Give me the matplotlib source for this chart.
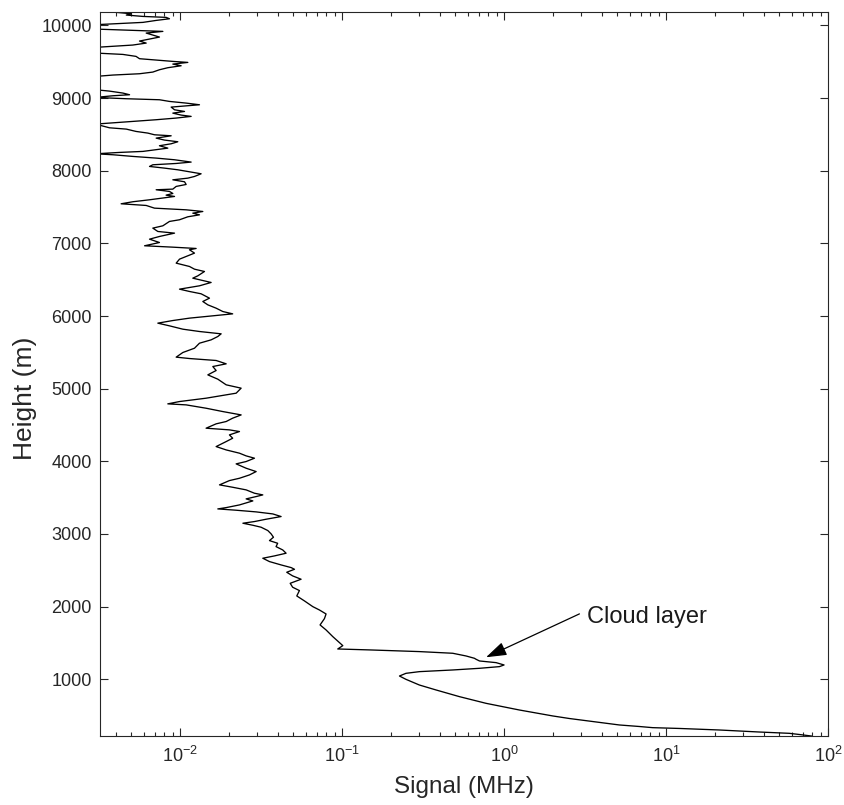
import matplotlib
matplotlib.use('Agg')
import matplotlib.pyplot as plt
import numpy as np
from matplotlib.ticker import LogLocator, NullFormatter

# ---------------- data ----------------
# Upper, noisy part of the lidar profile: height (m) and signal (MHz)
height_upper = [
    10180, 10161, 10143, 10124, 10111, 10092, 10069, 10042, 10010, 9950,
    9918, 9895, 9867, 9840, 9812, 9785, 9757, 9730, 9698, 9620,
    9601, 9574, 9542, 9519, 9505, 9491, 9468, 9445, 9418, 9390,
    9358, 9335, 9317, 9298, 9115, 9096, 9069, 9046, 9032, 9009,
    8991, 8977, 8954, 8931, 8908, 8876, 8839, 8816, 8793, 8766,
    8748, 8725, 8702, 8679, 8665, 8642, 8591, 8573, 8541, 8518,
    8495, 8481, 8449, 8422, 8399, 8371, 8344, 8311, 8266, 8252,
    8233, 8220, 8197, 8174, 8151, 8119, 8100, 8082, 8059, 8036,
    8013, 7990, 7958, 7921, 7898, 7875, 7848, 7811, 7784, 7747,
    7738, 7715, 7687, 7664, 7646, 7600, 7573, 7545, 7522, 7485,
    7462, 7439, 7416, 7393, 7366, 7325, 7302, 7242, 7210, 7164,
    7141, 7095, 7058, 7012, 6967, 6948, 6930, 6912, 6866, 6820,
    6783, 6728, 6682, 6645, 6613, 6553, 6521, 6462, 6416, 6370,
    6338, 6306, 6246, 6200, 6154, 6108, 6062, 6030, 6003, 5971,
    5938, 5902, 5865, 5819, 5787, 5755, 5718, 5672, 5626, 5557,
    5498, 5434, 5415, 5388, 5342, 5305, 5250, 5190, 5131, 5053,
    5007, 4938, 4869, 4823, 4791, 4777, 4731, 4685, 4639, 4594,
    4548, 4516, 4456, 4433, 4410, 4364, 4318, 4272, 4203, 4157,
    4112, 4075, 4043, 3997, 3965, 3905, 3859, 3813, 3767, 3735,
    3676, 3643, 3607, 3561, 3538, 3515, 3483, 3455, 3400, 3363,
    3345, 3327, 3304, 3276, 3240, 3203, 3171, 3148, 3120, 3093,
    3047, 3001, 2955, 2909, 2872, 2826, 2780, 2735, 2698, 2666,
    2620, 2574, 2537, 2514, 2473, 2423, 2377, 2321, 2267, 2221,
    2147, 2078, 2000, 1954, 1899, 1835, 1748, 1679, 1587, 1504,
    1463, 1417,
]
signal_upper = [
    0.00403, 0.00499, 0.00465, 0.00589, 0.00819, 0.00859, 0.00711, 0.00589, 0.003, 0.003,
    0.00782, 0.00617, 0.00678, 0.00745, 0.00647, 0.00561, 0.00617, 0.0051, 0.003, 0.003,
    0.00443, 0.00534, 0.00561, 0.00745, 0.00901, 0.01115, 0.00901, 0.01014, 0.00839, 0.00745,
    0.00678, 0.00561, 0.00384, 0.003, 0.003, 0.00366, 0.00443, 0.00487, 0.00384, 0.003,
    0.00465, 0.00745, 0.00859, 0.01089, 0.01316, 0.0088, 0.00923, 0.01064, 0.00901, 0.01014,
    0.01169, 0.00945, 0.00711, 0.0051, 0.00422, 0.003, 0.00366, 0.00465, 0.00534, 0.00632,
    0.00694, 0.0088, 0.00711, 0.0080, 0.00967, 0.0088, 0.00745, 0.00839, 0.00589, 0.00422,
    0.003, 0.00384, 0.0051, 0.00711, 0.00923, 0.01169, 0.00945, 0.00678, 0.00647, 0.0080,
    0.00967, 0.01115, 0.01347, 0.01226, 0.01115, 0.00901, 0.01064, 0.01089, 0.00945, 0.00901,
    0.00711, 0.00859, 0.00901, 0.00819, 0.00923, 0.00647, 0.0051, 0.00432, 0.00617, 0.00694,
    0.01089, 0.0138, 0.01197, 0.01316, 0.01115, 0.00991, 0.00859, 0.00782, 0.00678, 0.00728,
    0.00923, 0.00745, 0.00647, 0.00745, 0.00603, 0.00901, 0.01255, 0.01142, 0.01226, 0.01089,
    0.00991, 0.00945, 0.01142, 0.01226, 0.01413, 0.01285, 0.01197, 0.01553, 0.01316, 0.00991,
    0.01142, 0.01347, 0.01517, 0.0138, 0.01482, 0.01668, 0.01834, 0.0211, 0.01591, 0.01142,
    0.00901, 0.00728, 0.00859, 0.01039, 0.01316, 0.01791, 0.01708, 0.01553, 0.01316, 0.01226,
    0.01039, 0.00945, 0.01142, 0.01668, 0.01924, 0.01591, 0.01668, 0.01482, 0.01708, 0.01924,
    0.0238, 0.02217, 0.01446, 0.00991, 0.00839, 0.01089, 0.01446, 0.01834, 0.0238, 0.0211,
    0.01924, 0.01668, 0.01446, 0.02015, 0.02324, 0.02015, 0.0211, 0.01924, 0.01668, 0.01924,
    0.02324, 0.02555, 0.02876, 0.02555, 0.02217, 0.02555, 0.02946, 0.0268, 0.02324, 0.02015,
    0.0175, 0.0211, 0.02555, 0.02876, 0.03238, 0.02946, 0.02555, 0.0281, 0.02324, 0.01924,
    0.01708, 0.02217, 0.02946, 0.03733, 0.0420, 0.03395, 0.02876, 0.0244, 0.0281, 0.0316,
    0.03478, 0.03646, 0.03768, 0.0356, 0.0400, 0.0391, 0.0430, 0.0451, 0.0382, 0.03238,
    0.0356, 0.0420, 0.0485, 0.0508, 0.0455, 0.0495, 0.0558, 0.0478, 0.0495, 0.0545,
    0.0525, 0.0586, 0.0659, 0.0724, 0.0796, 0.0778, 0.0731, 0.0796, 0.0876, 0.0963,
    0.101, 0.094,
]
# Cloud layer and near-range part
height_lower = [1404, 1381, 1358, 1321, 1289, 1275, 1252, 1229, 1197, 1174,
                1151, 1128, 1105, 1082, 1045, 999, 921, 853, 761, 669,
                577, 495, 460, 430, 405, 371, 350, 334, 323, 302,
                274, 256, 240, 219]
signal_lower = [0.148, 0.300, 0.482, 0.582, 0.656, 0.672, 0.705, 0.893, 1.0, 0.936,
                0.705, 0.482, 0.300, 0.248, 0.226, 0.248, 0.300, 0.380, 0.530, 0.774,
                1.244, 2.0, 2.53, 3.21, 3.88, 5.15, 6.84, 8.27, 12.1, 21.3,
                37.7, 57.7, 66.5, 78.9]

yticks = [1000, 2000, 3000, 4000, 5000, 6000, 7000, 8000, 9000, 10000]
xlim = (0.0032, 100)
ylim = (219, 10185)

annot_text = 'Cloud layer'
annot_tip = (0.774, 1303)
annot_tail = (2.92, 1900)
annot_textpos = (3.27, 1858)

# ---------------- plotting ----------------
plt.rcParams['font.family'] = ['Liberation Sans', 'DejaVu Sans']
plt.rcParams['mathtext.default'] = 'regular'
plt.rcParams['axes.unicode_minus'] = False

grey = '#262626'
fig = plt.figure(figsize=(8.44, 8.05), dpi=100)
ax = fig.add_axes([0.1185, 0.0857, 0.8625, 0.8994])

height = height_upper + height_lower
signal = signal_upper + signal_lower
ax.plot(signal, height, color='black', lw=0.95)

ax.set_xscale('log')
ax.set_xlim(*xlim)
ax.set_ylim(*ylim)
ax.set_yticks(yticks)
ax.set_yticklabels([str(v) for v in yticks])
ax.xaxis.set_major_locator(LogLocator(base=10, numticks=10))
ax.xaxis.set_minor_locator(LogLocator(base=10, subs=np.arange(2, 10), numticks=20))
ax.xaxis.set_minor_formatter(NullFormatter())

ax.tick_params(which='both', direction='in', top=True, right=True,
               colors=grey, labelsize=13)
ax.tick_params(which='major', length=6, width=0.8)
ax.tick_params(which='minor', length=3, width=0.8)
ax.tick_params(axis='y', pad=6)
ax.tick_params(axis='x', pad=7)
for s in ax.spines.values():
    s.set_color(grey)
    s.set_linewidth(0.8)

ax.set_xlabel('Signal (MHz)', fontsize=17.5, color=grey, labelpad=7)
ax.set_ylabel('Height (m)', fontsize=19, color=grey)
ax.yaxis.set_label_coords(-0.086, 0.466)

ax.annotate('', xy=annot_tip, xytext=annot_tail,
            arrowprops=dict(arrowstyle='-|>,head_length=0.9,head_width=0.3',
                            mutation_scale=14, color='black', lw=0.9,
                            shrinkA=0, shrinkB=0))
ax.text(annot_textpos[0], annot_textpos[1], annot_text, fontsize=17,
        va='center', ha='left', color='#1a1a1a')

fig.savefig('out.png', dpi=100)
